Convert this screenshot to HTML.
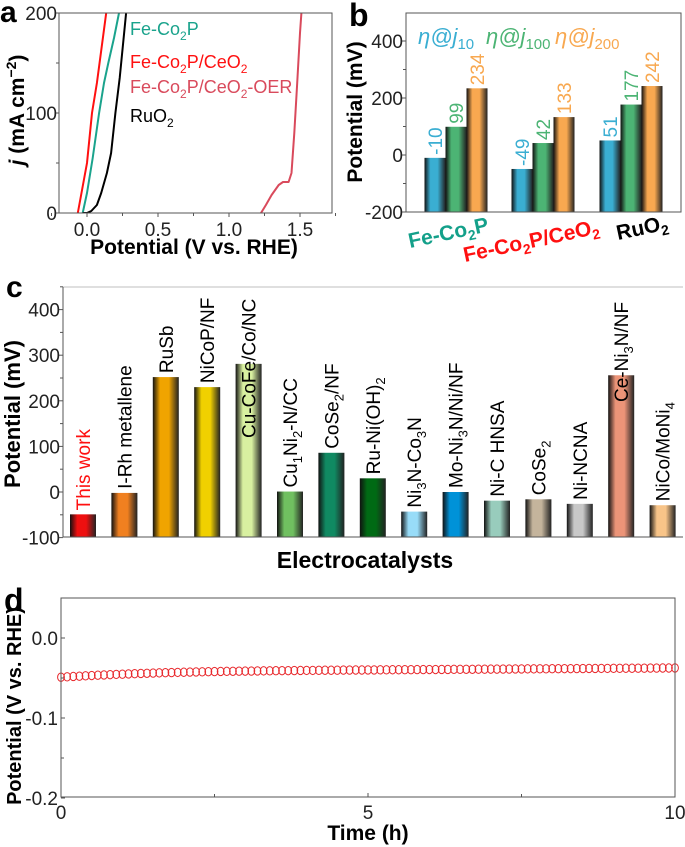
<!DOCTYPE html>
<html><head><meta charset="utf-8">
<style>
html,body{margin:0;padding:0;background:#fff;}
svg{display:block;font-family:"Liberation Sans",Arial,sans-serif;}
</style></head>
<body>
<svg id="fig" width="685" height="847" viewBox="0 0 685 847" xmlns="http://www.w3.org/2000/svg">
<defs id="defs"></defs>
<text x="0" y="22" font-size="30" font-weight="bold">a</text>
<text x="349" y="26" font-size="32" font-weight="bold">b</text>
<text x="6" y="297" font-size="30" font-weight="bold">c</text>
<text x="4" y="611" font-size="32" font-weight="bold">d</text>

<g id="pa"></g>
<g id="pb"></g>
<g id="pc"></g>
<g id="pd"></g>
</svg>
<script>
// ---------- Panel a data ----------
const aSeriesNames = ["Fe-Co2P","Fe-Co2P/CeO2","Fe-Co2P/CeO2-OER","RuO2"];
const aFeCo2P_V = [-0.03,0.0,0.04,0.085,0.12,0.15,0.19,0.225];
const aFeCo2P_J = [0,20,55,100,130,150,175,200];
const aFeCo2PCeO2_V = [-0.065,0.0,0.035,0.07,0.135];
const aFeCo2PCeO2_J = [0,50,100,130,200];
const aOER_V = [1.225,1.26,1.30,1.35,1.38,1.42,1.44,1.46,1.48,1.5,1.51];
const aOER_J = [0,8,18,28,31,31,40,80,130,180,200];
const aRuO2_V = [-0.03,0.0,0.03,0.07,0.1,0.14,0.17,0.2,0.23,0.275];
const aRuO2_J = [0,0,2,8,20,40,60,100,135,200];
const aXTicks = [0.0,0.5,1.0,1.5];
const aXTickLabels = ["0.0","0.5","1.0","1.5"];
const aYTicks = [0,100,200];

// ---------- Panel b data ----------
const bCategories = ["Fe-Co2P","Fe-Co2P/CeO2","RuO2"];
const bJ10 = [-10,-49,51];
const bJ100 = [99,42,177];
const bJ200 = [234,133,242];
const bYTicks = [-200,0,200,400];

// ---------- Panel c data ----------
const cCategories = ["This work","I-Rh metallene","RuSb","NiCoP/NF","Cu-CoFe/Co/NC","Cu1Ni2-N/CC","CoSe2/NF","Ru-Ni(OH)2","Ni3N-Co3N","Mo-Ni3N/Ni/NF","Ni-C HNSA","CoSe2","Ni-NCNA","Ce-Ni3N/NF","NiCo/MoNi4"];
const cValues = [-49,-2,252,230,281,1,86,30,-43,0,-19,-16,-26,256,-29];
const cColors = ["#ee1010","#f08020","#f0a400","#f0d000","#d8f0a0","#70c060","#108a62","#006a14","#98dcf8","#0092d8","#98ccbc","#c4b49c","#c8c8c8","#ec9478","#f8c488"];
const cYTicks = [-100,0,100,200,300,400];

// ---------- Panel d data ----------
const dValues = [-0.0490,-0.0485,-0.0481,-0.0477,-0.0473,-0.0469,-0.0465,-0.0462,-0.0458,-0.0455,
-0.0452,-0.0449,-0.0446,-0.0443,-0.0441,-0.0438,-0.0436,-0.0434,-0.0432,-0.0430,
-0.0428,-0.0426,-0.0424,-0.0423,-0.0421,-0.0420,-0.0418,-0.0417,-0.0416,-0.0415,
-0.0414,-0.0413,-0.0412,-0.0411,-0.0410,-0.0409,-0.0408,-0.0408,-0.0407,-0.0406,
-0.0405,-0.0405,-0.0404,-0.0403,-0.0403,-0.0402,-0.0401,-0.0401,-0.0400,-0.0400,
-0.0399,-0.0399,-0.0398,-0.0398,-0.0397,-0.0397,-0.0396,-0.0396,-0.0395,-0.0395,
-0.0394,-0.0394,-0.0393,-0.0393,-0.0392,-0.0392,-0.0391,-0.0391,-0.0390,-0.0390,
-0.0389,-0.0389,-0.0388,-0.0388,-0.0387,-0.0387,-0.0386,-0.0386,-0.0385,-0.0385,
-0.0384,-0.0384,-0.0383,-0.0383,-0.0382,-0.0382,-0.0381,-0.0381,-0.0380,-0.0380,
-0.0379,-0.0379,-0.0378,-0.0378,-0.0377,-0.0377,-0.0376,-0.0376,-0.0375,-0.0375,-0.0374];
const dTimeStep = 0.1;
const dXTicks = [0,5,10];
const dYTicks = [-0.2,-0.1,0.0];
const dYTickLabels = ["-0.2","-0.1","0.0"];

const NS="http://www.w3.org/2000/svg";
function mk(parent,tag,attrs,text){const e=document.createElementNS(NS,tag);for(const k in attrs)e.setAttribute(k,attrs[k]);if(text!==undefined)e.textContent=text;parent.appendChild(e);return e;}
const defs=document.getElementById('defs');
function grad(id,color){
  const g=mk(defs,'linearGradient',{id:id,x1:'0',x2:'1',y1:'0',y2:'0'});
  mk(g,'stop',{offset:'0','stop-color':'#111'});
  mk(g,'stop',{offset:'0.28','stop-color':color});
  mk(g,'stop',{offset:'0.62','stop-color':color});
  mk(g,'stop',{offset:'1','stop-color':'#222'});
}

// ================= Panel a =================
(function(){
  const g=document.getElementById('pa');
  const L=59,R=332,T=13,B=213;
  const x=v=>87+v*142, y=j=>B-j*(B-T)/200;
  const clip=mk(defs,'clipPath',{id:'clipA'});mk(clip,'rect',{x:L,y:T,width:R-L,height:B-T});
  const series=[[aFeCo2P_V,aFeCo2P_J,"#1aa38c","fe-co2p"],[aFeCo2PCeO2_V,aFeCo2PCeO2_J,"#ff1010","fe-co2p-ceo2"],[aOER_V,aOER_J,"#d94a5c","fe-co2p-ceo2-oer"],[aRuO2_V,aRuO2_J,"#000","ruo2"]];
  series.forEach(s=>{
    const d=s[0].map((v,i)=>(i?'L':'M')+x(v).toFixed(1)+','+y(s[1][i]).toFixed(1)).join(' ');
    const p=mk(g,'path',{d:d,fill:'none',stroke:s[2],'stroke-width':2,'stroke-linejoin':'round','clip-path':'url(#clipA)'});
    
    
  });
  mk(g,'rect',{x:L,y:T,width:R-L,height:B-T,fill:'none',stroke:'#555','stroke-width':1});
  aXTicks.forEach((t,i)=>{mk(g,'line',{x1:x(t),x2:x(t),y1:B,y2:B+4,stroke:'#555'});
    const tl=mk(g,'text',{x:x(t),y:B+23,'font-size':19,'text-anchor':'middle',fill:'#222'},aXTickLabels[i]);
    
    mk(g,'line',{x1:x(t+0.25),x2:x(t+0.25),y1:B,y2:B+3,stroke:'#555'});});
  mk(g,'line',{x1:x(-0.25),x2:x(-0.25),y1:B,y2:B+3,stroke:'#555'});
  aYTicks.forEach(t=>{mk(g,'line',{x1:L-4,x2:L,y1:y(t),y2:y(t),stroke:'#555'});
    const tl=mk(g,'text',{x:L-2,y:y(t)+7,'font-size':19,'text-anchor':'end',fill:'#222'},String(t));
    
    if(t<200)mk(g,'line',{x1:L-3,x2:L,y1:y(t+50),y2:y(t+50),stroke:'#555'});});
  const xl=mk(g,'text',{x:194,y:254,'font-size':21,'font-weight':'bold','text-anchor':'middle'},'Potential (V vs. RHE)');
  
  const yl=mk(g,'text',{transform:'translate(24,110) rotate(-90)','font-size':21,'font-weight':'bold','text-anchor':'middle'});
  yl.innerHTML='<tspan font-style="italic">j</tspan> (mA cm<tspan dy="-8" font-size="14">−2</tspan><tspan dy="8">)</tspan>';
  
  const leg=[["Fe-Co","P","","#1aa38c",35],["Fe-Co","P/CeO","","#ff1010",68],["Fe-Co","P/CeO","-OER","#d94a5c",93],["RuO","","","#000",122]];
  leg.forEach((l,i)=>{
    const t=mk(g,'text',{x:130,y:l[4],'font-size':18,fill:l[3]});
    let h=l[0]+'<tspan dy="5" font-size="12">2</tspan><tspan dy="-5">'+l[1]+'</tspan>';
    if(i===1||i===2) h+='<tspan dy="5" font-size="12">2</tspan><tspan dy="-5">'+l[2]+'</tspan>';
    t.innerHTML=h;
    
    
  });
})();

// ================= Panel b =================
(function(){
  const g=document.getElementById('pb');
  const L=406,R=681,T=13,B=212;
  const y=v=>155-v*(171/600);
  const cols=["#3aaed2","#4cb474","#f8a850"];
  cols.forEach((c,i)=>grad('gb'+i,c));
  const series=[bJ10,bJ100,bJ200];
  const groupX=[435,522,610], bw=21;
  bCategories.forEach((cat,gi)=>{
    series.forEach((s,si)=>{
      const cx=groupX[gi]+si*bw;
      const v=s[gi];
      const r=mk(g,'rect',{x:cx-bw/2,y:y(v),width:bw,height:B-y(v),fill:'url(#gb'+si+')'});
      
      
      const t=mk(g,'text',{transform:`translate(${cx+7},${y(v)-3}) rotate(-90)`,'font-size':19,fill:cols[si]},String(v));
      
      
    });
  });
  mk(g,'rect',{x:L,y:T,width:R-L,height:B-T,fill:'none',stroke:'#555','stroke-width':1});
  bYTicks.forEach(t=>{mk(g,'line',{x1:L-4,x2:L,y1:y(t),y2:y(t),stroke:'#555'});
    const tl=mk(g,'text',{x:L-3,y:y(t)+7,'font-size':19,'text-anchor':'end',fill:'#222'},String(t));
    
    if(t<400)mk(g,'line',{x1:L-3,x2:L,y1:y(t+100),y2:y(t+100),stroke:'#555'});});
  const yl=mk(g,'text',{transform:'translate(362,112) rotate(-90)','font-size':21,'font-weight':'bold','text-anchor':'middle'},'Potential (mV)');
  
  const legX=[418,486,555],legSub=["10","100","200"];
  legX.forEach((lx,i)=>{
    const t=mk(g,'text',{x:lx,y:44,'font-size':22,fill:cols[i]});
    t.innerHTML='<tspan font-style="italic">η@j</tspan><tspan dy="5" font-size="15">'+legSub[i]+'</tspan>';
    
  });
  const cl=[["Fe-Co","P","","#14a08a",410,248,-12],["Fe-Co","P/CeO","","#ff1010",465,262,-12],["RuO","","","#000",618,240,-12]];
  cl.forEach((c,i)=>{
    const t=mk(g,'text',{transform:`translate(${c[4]},${c[5]}) rotate(${c[6]})`,'font-size':21,'font-weight':'bold',fill:c[3]});
    let h=c[0]+'<tspan dy="5" font-size="14">2</tspan><tspan dy="-5">'+c[1]+'</tspan>';
    if(i===1)h+='<tspan dy="5" font-size="14">2</tspan>';
    t.innerHTML=h;
    
  });
})();

// ================= Panel c =================
(function(){
  const g=document.getElementById('pc');
  const L=63,R=683,T=287,B=537;
  const y=v=>492-v*0.456;
  const x=i=>83+i*41.4;
  cColors.forEach((c,i)=>grad('gc'+i,c));
  const inside={4:438,13:402};
  const subs={"Cu1Ni2-N/CC":'Cu<tspan dy="5" font-size="13">1</tspan><tspan dy="-5">Ni</tspan><tspan dy="5" font-size="13">2</tspan><tspan dy="-5">-N/CC</tspan>',
    "CoSe2/NF":'CoSe<tspan dy="5" font-size="13">2</tspan><tspan dy="-5">/NF</tspan>',
    "Ru-Ni(OH)2":'Ru-Ni(OH)<tspan dy="5" font-size="13">2</tspan>',
    "Ni3N-Co3N":'Ni<tspan dy="5" font-size="13">3</tspan><tspan dy="-5">N-Co</tspan><tspan dy="5" font-size="13">3</tspan><tspan dy="-5">N</tspan>',
    "Mo-Ni3N/Ni/NF":'Mo-Ni<tspan dy="5" font-size="13">3</tspan><tspan dy="-5">N/Ni/NF</tspan>',
    "CoSe2":'CoSe<tspan dy="5" font-size="13">2</tspan>',
    "Ce-Ni3N/NF":'Ce-Ni<tspan dy="5" font-size="13">3</tspan><tspan dy="-5">N/NF</tspan>',
    "NiCo/MoNi4":'NiCo/MoNi<tspan dy="5" font-size="13">4</tspan>'};
  cCategories.forEach((cat,i)=>{
    const v=cValues[i];
    const r=mk(g,'rect',{x:x(i)-13,y:y(v),width:26,height:B-y(v),fill:'url(#gc'+i+')'});
    
    
    const by=inside[i]!==undefined?inside[i]:y(v)-4;
    const t=mk(g,'text',{transform:`translate(${x(i)+7},${by}) rotate(-90)`,'font-size':19,fill:i===0?'#ff1010':'#000'});
    t.innerHTML=subs[cat]||cat;
    
    
  });
  mk(g,'line',{x1:L,x2:R,y1:T,y2:T,stroke:'#aaa','stroke-width':0.8});
  mk(g,'line',{x1:L,x2:L,y1:T,y2:B,stroke:'#555'});
  mk(g,'line',{x1:L,x2:R,y1:B,y2:B,stroke:'#555'});
  cYTicks.forEach(t=>{mk(g,'line',{x1:L-4,x2:L,y1:y(t),y2:y(t),stroke:'#555'});
    const tl=mk(g,'text',{x:L-3,y:y(t)+7,'font-size':19,'text-anchor':'end',fill:'#222'},String(t));
    
    mk(g,'line',{x1:L-3,x2:L,y1:y(t+50),y2:y(t+50),stroke:'#555'});});
  const yl=mk(g,'text',{transform:'translate(20,414) rotate(-90)','font-size':22,'font-weight':'bold','text-anchor':'middle'},'Potential (mV)');
  
  const xl=mk(g,'text',{x:365,y:568,'font-size':23,'font-weight':'bold','text-anchor':'middle'},'Electrocatalysts');
  
})();

// ================= Panel d =================
(function(){
  const g=document.getElementById('pd');
  const L=61,R=675,T=598,B=797;
  const x=t=>L+t*(R-L)/10, y=v=>638-v*800;
  dValues.forEach((v,i)=>{
    const c=mk(g,'ellipse',{cx:x(i*dTimeStep),cy:y(v),rx:3.4,ry:4.2,fill:'none',stroke:'#e8282c','stroke-width':1});
    
    
  });
  mk(g,'rect',{x:L,y:T,width:R-L,height:B-T,fill:'none',stroke:'#555','stroke-width':1});
  dXTicks.forEach(t=>{mk(g,'line',{x1:x(t),x2:x(t),y1:B,y2:B-4,stroke:'#555'});
    const tl=mk(g,'text',{x:x(t),y:B+22,'font-size':19,'text-anchor':'middle',fill:'#222'},String(t));
    
    if(t<10)mk(g,'line',{x1:x(t+2.5),x2:x(t+2.5),y1:B,y2:B-3,stroke:'#555'});});
  dYTicks.forEach((t,i)=>{mk(g,'line',{x1:L,x2:L+4,y1:y(t),y2:y(t),stroke:'#555'});
    const tl=mk(g,'text',{x:L-3,y:y(t)+7,'font-size':19,'text-anchor':'end',fill:'#222'},dYTickLabels[i]);
    
    mk(g,'line',{x1:L,x2:L+3,y1:y(t+0.05),y2:y(t+0.05),stroke:'#555'});});
  const yl=mk(g,'text',{transform:'translate(21,706) rotate(-90)','font-size':20,'font-weight':'bold','text-anchor':'middle'},'Potential (V vs. RHE)');
  
  const xl=mk(g,'text',{x:368,y:840,'font-size':21,'font-weight':'bold','text-anchor':'middle'},'Time (h)');
  
})();
</script>
</body></html>
